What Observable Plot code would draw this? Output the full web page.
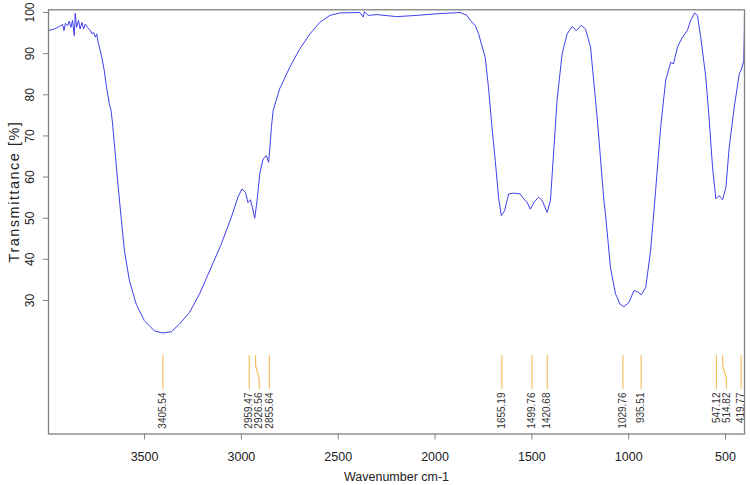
<!DOCTYPE html>
<html><head><meta charset="utf-8">
<script src="https://cdn.jsdelivr.net/npm/d3@7"></script>
<script src="https://cdn.jsdelivr.net/npm/@observablehq/plot@0.6"></script>
<style>html,body{margin:0;padding:0;background:#fff}#chart{width:750px;height:485px}</style>
</head><body><div id="chart"></div>
<script>
const wavenumber = [3996,3966,3940,3923,3916,3909,3897,3889,3880,3872,3863,3858,3851,3841,3833,3823,3815,3806,3794,3782,3771,3763,3754,3747,3740,3733,3719,3708,3699,3682,3673,3665,3656,3639,3621,3604,3578,3543,3501,3449,3406,3362,3319,3268,3216,3164,3104,3052,3018,2997,2979,2966,2953,2943,2931,2919,2905,2888,2871,2859,2850,2845,2836,2802,2750,2698,2646,2595,2543,2491,2388,2371,2365,2345,2301,2198,2094,1991,1913,1870,1835,1818,1792,1775,1741,1724,1706,1689,1672,1658,1641,1620,1594,1560,1542,1525,1508,1487,1465,1447,1421,1404,1387,1370,1344,1318,1292,1270,1245,1223,1197,1171,1163,1146,1128,1120,1094,1068,1059,1045,1025,999,973,956,935,912,887,861,835,809,783,769,748,723,697,680,659,645,628,602,585,567,550,533,515,498,481,455,429,417,406,403,402];
const transmittance = [95.6,96.0,96.6,97.1,95.6,97.4,96.8,97.9,96.4,98.1,94.4,99.8,96.4,98.1,96.0,97.6,96.0,97.2,96.3,95.8,94.8,95.2,94.0,94.8,92.8,91.6,88.7,85.9,82.7,77.8,76.2,72.9,68.1,59.1,50.2,42.1,34.8,29.1,25.1,22.6,22.1,22.4,24.3,27.1,31.6,37.2,43.7,50.2,55.1,57.1,56.3,53.8,54.5,52.6,50.0,54.3,60.8,64.4,65.2,63.6,68.9,72.1,76.2,81.5,86.7,91.2,94.8,97.6,99.3,99.9,100.0,98.9,100.2,99.3,99.5,99.0,99.3,99.7,99.9,100.0,99.3,98.1,96.8,94.8,89.1,81.8,72.1,64.0,55.1,50.6,51.8,55.9,56.1,55.9,54.7,53.9,52.2,54.0,55.1,54.3,51.4,54.3,66.4,78.6,89.9,94.8,96.6,95.6,96.9,96.0,91.6,78.6,74.5,64.8,54.3,51.0,38.0,31.6,30.7,29.1,28.5,29.5,32.4,32.2,31.4,33.2,42.1,56.7,72.1,83.5,87.9,87.5,91.6,94.0,95.6,98.1,99.9,99.3,94.0,84.3,74.5,62.4,54.7,55.5,54.5,57.5,67.2,77.0,85.1,86.3,88.3,94.8,100.0];
const peaks = [3405.54,2959.47,2926.56,2855.64,1655.19,1499.76,1420.68,1029.76,935.51,547.12,514.82,419.77];
const peakLabels = ["3405.54","2959.47","2926.56","2855.64","1655.19","1499.76","1420.68","1029.76","935.51","547.12","514.82","419.77"];
const xTicks = [3500,3000,2500,2000,1500,1000,500];
const yTicks = [30,40,50,60,70,80,90,100];
const xTitle = "Wavenumber cm-1";
const yTitle = "Transmittance [%]";

const W = 750, H = 485, mL = 48, mR = 6, mT = 9.3, mB = 51.5;
const xDomain = [3996, 402], yDomain = [-2.45, 100.66];
const xs = d3.scaleLinear(xDomain, [mL, W - mR]);
const ys = d3.scaleLinear(yDomain, [H - mB, mT]);

// label layout: keep labels at least 10px apart, pushing rightwards
const order = peaks.map((p, i) => i).sort((a, b) => xs(peaks[a]) - xs(peaks[b]));
const labelPx = new Array(peaks.length);
let prev = -Infinity;
for (const i of order) { const px = Math.max(xs(peaks[i]), prev + 10); labelPx[i] = px; prev = px; }
const labelW = labelPx.map(p => xs.invert(p));
const yTop = ys.invert(355), yB1 = ys.invert(365), yB2 = ys.invert(378), yBot = ys.invert(388), yLab = ys.invert(392);
const leaders = peaks.flatMap((p, i) => [
  {w: p, t: yTop, k: i}, {w: p, t: yB1, k: i}, {w: labelW[i], t: yB2, k: i}, {w: labelW[i], t: yBot, k: i}
]);
const spectrum = wavenumber.map((w, i) => ({w, t: transmittance[i]}));
const labels = peaks.map((p, i) => ({w: labelW[i], t: yLab, s: peakLabels[i]}));
const yTitleRow = [{s: yTitle, t: ys.invert(191)}];

const chart = Plot.plot({
  width: W, height: H,
  marginLeft: mL, marginRight: mR, marginTop: mT, marginBottom: mB,
  x: {domain: xDomain},
  y: {domain: yDomain},
  style: {fontFamily: "'Liberation Sans', Arial, sans-serif", background: "#fff", overflow: "visible"},
  marks: [
    Plot.line(leaders, {x: "w", y: "t", z: "k", stroke: "#f5bf5f", strokeWidth: 1.2}),
    Plot.text(labels, {x: "w", y: "t", text: "s", rotate: -90, textAnchor: "end", lineAnchor: "middle", fontSize: 10, fill: "#333"}),
    Plot.line(spectrum, {x: "w", y: "t", stroke: "#4040ee", strokeWidth: 1, curve: "linear"}),
    Plot.frame({stroke: "#808080", strokeWidth: 1.3}),
    Plot.axisX(xTicks, {tickSize: 6, tickPadding: 12, fontSize: 12.5, label: null, stroke: "#808080", fill: "#222", tickFormat: d => String(d)}),
    Plot.axisY(yTicks, {tickSize: 5, tickPadding: 10, tickRotate: -90, fontSize: 12, label: null, stroke: "#808080", fill: "#222", tickFormat: d => String(d)}),
    Plot.text([xTitle], {frameAnchor: "bottom", dy: 43, fontSize: 12.5, lineAnchor: "middle", fill: "#222"}),
    Plot.text(yTitleRow, {y: "t", text: "s", frameAnchor: "left", dx: -34, rotate: -90, fontSize: 14.5, lineAnchor: "middle", textAnchor: "middle", fill: "#222", className: "ytitle"})
  ]
});
chart.querySelectorAll(".ytitle text").forEach(t => t.setAttribute("letter-spacing", "1.5"));
document.getElementById("chart").appendChild(chart);
</script>
</body></html>
